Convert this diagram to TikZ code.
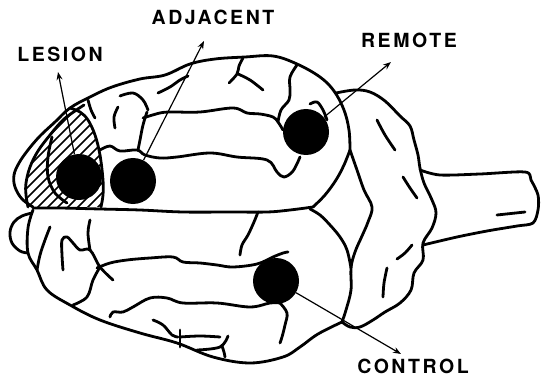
\documentclass[tikz,border=0pt]{standalone}
\usepackage{fontspec}
\newfontfamily\labfont[LetterSpace=13]{TeX Gyre Heros}
\usetikzlibrary{arrows.meta}
\begin{document}
\begin{tikzpicture}[x=1pt,y=-1pt,
  brain/.style={line width=2.8pt, line cap=round, line join=round},
  hatchline/.style={line width=1.5pt},
  spot/.style={circle, fill=black, draw=none, minimum size=46pt, inner sep=0pt},
  pointer/.style={line width=1.2pt, -{Stealth[length=8pt,width=6pt]}},
  label/.style={font=\labfont\bfseries\fontsize{19.5}{19.5}\selectfont, inner sep=0pt, anchor=base}]
\useasboundingbox (0,0) rectangle (541,377);

% ---------- lesion hatching ----------
\begin{scope}
  \clip plot[smooth, tension=0.6] coordinates {(28,207) (26,195) (26,183) (30,167) (38,151) (50,135) (63,120) (72,110) (80,112) (88,120) (95,135) (100,155) (103,180) (103,195) (101,207)} -- cycle;
  \foreach \k in {-60,-50,...,120}
    \draw[hatchline] (\k,215) -- ++(140,-140);
\end{scope}

% ---------- dorsal hemisphere (upper) ----------
\draw[brain] plot[smooth, tension=0.6] coordinates {(33,207) (22,199) (15,187) (14,175) (19,163) (28,150) (40,136) (55,122) (70,108) (90,97) (112,87) (140,79) (165,75) (190,64) (215,59) (245,57) (273,56) (297,64) (320,77) (334,91) (344,110) (349,130) (350,150)};
\draw[brain] plot[smooth, tension=0.6] coordinates {(350,150) (344,165) (336,180) (325,195) (313,207)};
% midline
\draw[brain] plot[smooth, tension=0.6] coordinates {(33,208) (60,208) (100,209) (140,210) (183,212) (230,212) (267,212) (290,210) (313,207)};
% inner frontal edge and lesion border
\draw[brain] plot[smooth, tension=0.6] coordinates {(28,207) (26,195) (26,183) (30,167) (38,151) (50,135) (63,120) (75,111) (84,105)};
\draw[brain] plot[smooth, tension=0.6] coordinates {(70,108) (80,112) (88,120) (95,135) (100,155) (103,180) (103,195) (101,207)};
\draw[brain] plot[smooth, tension=0.6] coordinates {(52,137) (48,157) (48,177) (55,193) (67,203)};
% sulci of the upper hemisphere
\draw[brain] plot[smooth, tension=0.6] coordinates {(88,100) (91,110) (95,118)};
\draw[brain] plot[smooth, tension=0.6] coordinates {(118,107) (114,117) (115,128)};
\draw[brain] plot[smooth, tension=0.6] coordinates {(120,96) (133,93) (143,100) (148,110)};
\draw[brain] plot[smooth, tension=0.6] coordinates {(143,118) (160,113) (172,112) (200,112) (233,108) (247,113) (260,114) (273,117) (278,122) (283,130)};
\draw[brain] plot[smooth, tension=0.6] coordinates {(147,112) (143,125) (140,140) (138,150)};
\draw[brain] plot[smooth, tension=0.6] coordinates {(100,150) (110,146) (120,151) (137,150) (145,155) (160,158) (177,157) (210,153) (237,157) (267,160) (277,172) (284,177) (293,171) (300,157)};
\draw[brain] plot[smooth, tension=0.6] coordinates {(158,93) (170,87) (180,80) (188,76)};
\draw[brain] plot[smooth, tension=0.6] coordinates {(243,58) (239,66) (237,74) (229,83)};
\draw[brain] plot[smooth, tension=0.6] coordinates {(238,74) (250,80) (263,90)};
\draw[brain] plot[smooth, tension=0.6] coordinates {(297,65) (290,77) (290,90) (289,100) (281,110) (278,122)};
\draw[brain] plot[smooth, tension=0.6] coordinates {(310,104) (317,102) (323,110) (327,120)};

% ---------- ventral-side hemisphere (lower) ----------
\draw[brain] plot[smooth, tension=0.6] coordinates {(33,210) (28,228) (28,253) (37,270) (47,290) (70,305) (100,320) (140,333) (177,343) (213,357) (250,363) (283,357) (300,347) (318,334) (342,322)};
\draw[brain] plot[smooth, tension=0.6] coordinates {(310,209) (320,215) (330,225) (340,237) (347,250) (351,268)};
% olfactory bulb
\draw[brain] plot[smooth, tension=0.6] coordinates {(32,213) (22,216) (14,222) (10,232) (12,243) (20,251) (28,253)};
% sulci of the lower hemisphere
\draw[brain] plot[smooth, tension=0.6] coordinates {(258,212) (254,222) (248,235) (242,245) (240,255)};
\draw[brain] plot[smooth, tension=0.6] coordinates {(97,268) (110,263) (127,260) (150,258) (173,257) (183,262) (200,263) (217,265) (233,267) (257,264) (273,257) (283,253) (288,252)};
\draw[brain] plot[smooth, tension=0.6] coordinates {(110,317) (113,312) (123,312) (133,307) (150,298) (167,298) (183,303) (217,303) (250,307) (270,303) (280,303)};
\draw[brain] plot[smooth, tension=0.6] coordinates {(280,303) (287,313) (285,325) (282,337) (280,343)};
\draw[brain] plot[smooth, tension=0.6] coordinates {(153,320) (163,325) (172,335) (178,337)};
\draw[brain] (180,330) -- (180,347);
\draw[brain] plot[smooth, tension=0.6] coordinates {(180,337) (200,336) (220,337)};
\draw[brain] plot[smooth, tension=0.6] coordinates {(197,350) (220,347) (228,336)};
\draw[brain] plot[smooth, tension=0.6] coordinates {(222,346) (224,352) (225,357)};
\draw[brain] plot[smooth, tension=0.6] coordinates {(50,227) (45,240) (40,255) (37,270)};
\draw[brain] plot[smooth, tension=0.6] coordinates {(63,270) (62,255) (62,240) (67,237) (73,243) (80,250) (90,250) (100,267) (113,280)};
\draw[brain] plot[smooth, tension=0.6] coordinates {(90,250) (88,233) (90,220)};
\draw[brain] plot[smooth, tension=0.6] coordinates {(100,267) (93,280) (87,297) (73,305)};

% ---------- cerebellum ----------
\draw[brain] plot[smooth, tension=0.6] coordinates {(350,150) (357,170) (364,190) (372,207) (368,222) (362,236) (355,252) (351,268) (351,290) (346,310) (342,322)};
\draw[brain] plot[smooth, tension=0.6] coordinates {(336,93) (355,90) (370,92) (385,101) (400,116) (410,126) (414,140) (418,155) (420,168) (424,183) (432,200) (436,213) (432,228) (423,243) (423,260) (414,273) (411,290) (400,303) (385,312) (373,320) (360,327) (350,327) (342,322)};
\draw[brain] plot[smooth, tension=0.6] coordinates {(377,120) (385,135) (395,150)};
\draw[brain] plot[smooth, tension=0.6] coordinates {(403,177) (410,188) (417,198)};
\draw[brain] plot[smooth, tension=0.6] coordinates {(412,245) (405,253) (397,259)};
\draw[brain] plot[smooth, tension=0.6] coordinates {(387,268) (384,283) (383,297)};

% ---------- brainstem ----------
\draw[brain] plot[smooth, tension=0.5] coordinates {(420,170) (440,175) (480,174) (525,172) (531,180) (538,195) (538,210) (533,223) (517,226) (487,231) (457,237) (423,245)};
\draw[brain] (497,215) -- (525,212);

% ---------- recording sites ----------
\node[spot] (les) at (79,177) {};
\node[spot] (adj) at (133,181) {};
\node[spot] (rem) at (306,132) {};
\node[spot] (con) at (276,281) {};

\coordinate (lestip) at (58,72);
\coordinate (adjtip) at (204,41);
\coordinate (remtip) at (391,62);
\coordinate (contip) at (401,354);

\draw[pointer] (les) -- (lestip);
\draw[pointer] (adj) -- (adjtip);
\draw[pointer] (rem) -- (remtip);
\draw[pointer] (con) -- (contip);

\node[label] (leslab) at (60,62) {LESION};
\node[label] (adjlab) at (213,25) {ADJACENT};
\node[label] (remlab) at (409,48) {REMOTE};
\node[label] (conlab) at (413,373) {CONTROL};
\end{tikzpicture}
\end{document}
